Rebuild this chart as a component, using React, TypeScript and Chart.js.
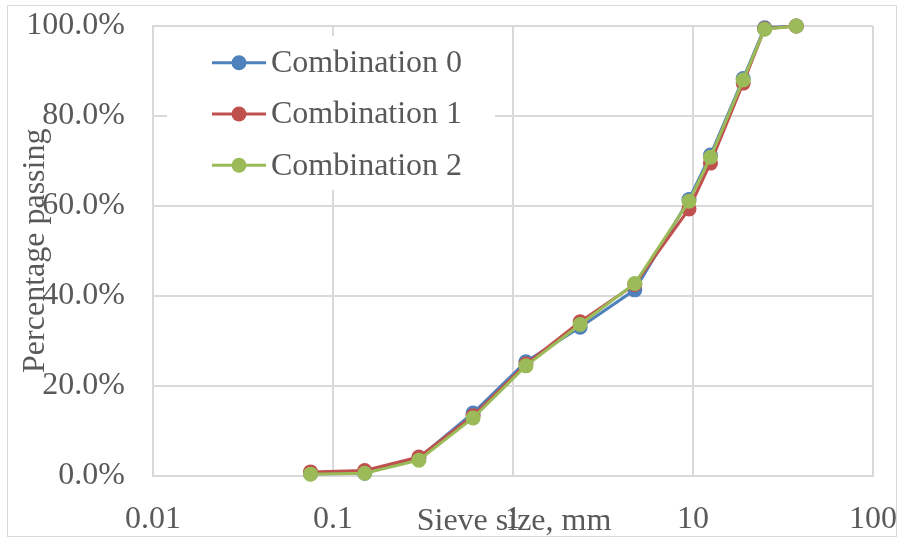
import React, { useEffect, useRef } from 'react';
import { Chart, registerables } from 'chart.js';

Chart.register(...registerables);

const sieveSizes = [0.075, 0.15, 0.3, 0.6, 1.18, 2.36, 4.75, 9.5, 12.5, 19, 25, 37.5];
const combination0 = [0.4, 0.5, 3.9, 13.9, 25.3, 33.0, 41.3, 61.4, 71.3, 88.3, 99.6, 100];
const combination1 = [0.8, 1.1, 4.1, 13.3, 24.8, 34.2, 42.5, 59.3, 69.5, 87.3, 99.4, 100];
const combination2 = [0.3, 0.5, 3.4, 12.8, 24.4, 33.6, 42.7, 61.0, 70.8, 88.0, 99.3, 100];
const seriesNames = ['Combination 0', 'Combination 1', 'Combination 2'];
const seriesColors = ['#4F81BD', '#C0504D', '#9BBB59'];
const xTickValues = [0.01, 0.1, 1, 10, 100];
const xTitle = 'Sieve size, mm';
const yTitle = 'Percentage passing';

const FONT = "'Liberation Serif', 'Times New Roman', serif";
const TEXT = '#595959';
const GRID = '#d9d9d9';

export default function App() {
  const ref = useRef<HTMLCanvasElement | null>(null);

  useEffect(() => {
    document.body.style.margin = '0';
    const canvas = ref.current;
    if (!canvas) return;

    const seriesValues = [combination0, combination1, combination2];

    const framePlugin = {
      id: 'frame',
      beforeDraw(chart: any) {
        const ctx = chart.ctx;
        ctx.save();
        ctx.fillStyle = '#ffffff';
        ctx.fillRect(0, 0, chart.width, chart.height);
        ctx.strokeStyle = GRID;
        ctx.lineWidth = 1;
        ctx.strokeRect(7.5, 5.5, 889, 531);
        ctx.restore();
      },
      afterDraw(chart: any) {
        const ctx = chart.ctx;
        const area = chart.chartArea;
        ctx.save();
        // legend box
        ctx.fillStyle = '#ffffff';
        ctx.fillRect(167, 36, 328, 154);
        ctx.font = `32px ${FONT}`;
        ctx.textBaseline = 'middle';
        ctx.textAlign = 'left';
        seriesNames.forEach((name, i) => {
          const y = 62.7 + i * 51.3;
          ctx.strokeStyle = seriesColors[i];
          ctx.lineWidth = 3;
          ctx.beginPath();
          ctx.moveTo(212, y);
          ctx.lineTo(266, y);
          ctx.stroke();
          ctx.fillStyle = seriesColors[i];
          ctx.beginPath();
          ctx.arc(239, y, 7.5, 0, Math.PI * 2);
          ctx.fill();
          ctx.fillStyle = TEXT;
          ctx.fillText(name, 271, y + 1);
        });
        // axis titles
        ctx.fillStyle = TEXT;
        ctx.textAlign = 'center';
        ctx.fillText(xTitle, (area.left + area.right) / 2 + 1, 522);
        ctx.translate(36, (area.top + area.bottom) / 2);
        ctx.rotate(-Math.PI / 2);
        ctx.fillText(yTitle, 0, 0);
        ctx.restore();
      },
    };

    const chart = new Chart(canvas, {
      type: 'scatter',
      data: {
        datasets: seriesNames.map((name, i) => ({
          label: name,
          data: sieveSizes.map((s, j) => ({ x: s, y: seriesValues[i][j] })),
          showLine: true,
          clip: false,
          borderColor: seriesColors[i],
          backgroundColor: seriesColors[i],
          borderWidth: 3,
          pointRadius: 7.5,
          pointBorderWidth: 0,
          pointHoverRadius: 7.5,
          order: 3 - i,
        })),
      },
      options: {
        responsive: false,
        animation: false,
        layout: { padding: { left: 0, right: 29, top: 26, bottom: 0 } },
        plugins: {
          legend: { display: false },
          tooltip: { enabled: false },
          title: { display: false },
        },
        scales: {
          x: {
            type: 'logarithmic',
            min: 0.01,
            max: 100,
            afterBuildTicks(scale: any) {
              scale.ticks = xTickValues.map((v) => ({ value: v }));
            },
            afterFit(scale: any) {
              scale.height = 66.5;
              scale.paddingLeft = 0;
              scale.paddingRight = 0;
              scale.paddingTop = 0;
              scale.paddingBottom = 0;
            },
            ticks: {
              autoSkip: false,
              maxRotation: 0,
              minRotation: 0,
              padding: 25,
              color: TEXT,
              font: { family: FONT, size: 32 },
              callback: (v: any) => String(v),
            },
            grid: { color: GRID, lineWidth: 2, drawTicks: false },
            border: { color: GRID, width: 2 },
          },
          y: {
            min: 0,
            max: 100,
            ticks: {
              stepSize: 20,
              padding: 28,
              color: TEXT,
              font: { family: FONT, size: 32 },
              callback: (v: any) => Number(v).toFixed(1) + '%',
            },
            afterFit(scale: any) {
              scale.width = 153;
              scale.paddingLeft = 0;
              scale.paddingRight = 0;
              scale.paddingTop = 0;
              scale.paddingBottom = 0;
            },
            grid: { color: GRID, lineWidth: 2, drawTicks: false },
            border: { color: GRID, width: 2 },
          },
        },
      },
      plugins: [framePlugin],
    });

    return () => chart.destroy();
  }, []);

  return (
    <div style={{ width: 902, height: 542 }}>
      <canvas ref={ref} width={902} height={542} style={{ display: 'block' }} />
    </div>
  );
}
